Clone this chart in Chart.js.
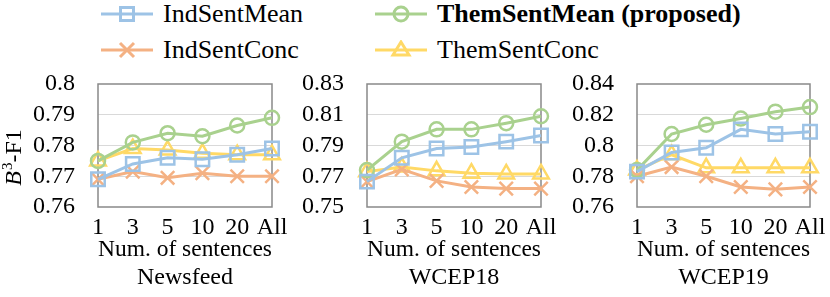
<!DOCTYPE html>
<html>
<head>
<meta charset="utf-8">
<script src="https://cdn.jsdelivr.net/npm/chart.js@4.4.1/dist/chart.umd.min.js"></script>
<style>
  html, body { margin: 0; padding: 0; background: #fff; overflow: hidden; }
  body { width: 830px; height: 297px; position: relative; font-family: 'Liberation Serif', 'Times New Roman', serif; }
  canvas { position: absolute; top: 60px; }
  .leg { position: absolute; height: 30px; display: flex; align-items: center; font-size: 26px; color: #000; white-space: nowrap; }
  .leg svg { margin-right: 10px; }
</style>
</head>
<body>
<div class="leg" style="left:101px; top:-1px;">
  <svg width="52" height="20"><line x1="0" y1="10" x2="52" y2="10" stroke="#9dc3e6" stroke-width="3"/><rect x="19.5" y="3.5" width="13" height="13" fill="none" stroke="#9dc3e6" stroke-width="3"/></svg>IndSentMean</div>
<div class="leg" style="left:375px; top:-1px; font-weight:bold;">
  <svg width="52" height="20"><line x1="0" y1="10" x2="52" y2="10" stroke="#a9d18e" stroke-width="3"/><circle cx="26" cy="10" r="7" fill="none" stroke="#a9d18e" stroke-width="3"/></svg>ThemSentMean (proposed)</div>
<div class="leg" style="left:101px; top:35px;">
  <svg width="52" height="20"><line x1="0" y1="10" x2="52" y2="10" stroke="#f4b183" stroke-width="3"/><path d="M19 3 L33 17 M33 3 L19 17" stroke="#f4b183" stroke-width="3"/></svg>IndSentConc</div>
<div class="leg" style="left:375px; top:35px;">
  <svg width="52" height="20"><line x1="0" y1="10" x2="52" y2="10" stroke="#ffd966" stroke-width="3"/><path d="M26 2 L34 15 L18 15 Z" fill="none" stroke="#ffd966" stroke-width="3"/></svg>ThemSentConc</div>

<canvas id="c1" width="290" height="237" style="left:0px;"></canvas>
<canvas id="c2" width="290" height="237" style="left:290px;"></canvas>
<canvas id="c3" width="270" height="237" style="left:560px;"></canvas>

<script>
  var categories = ['1', '3', '5', '10', '20', 'All'];

  // Newsfeed
  var newsIndMean  = [0.769, 0.774, 0.776, 0.7755, 0.777, 0.779];
  var newsIndConc  = [0.769, 0.7715, 0.7695, 0.771, 0.770, 0.770];
  var newsThemMean = [0.775, 0.781, 0.784, 0.783, 0.7865, 0.789];
  var newsThemConc = [0.775, 0.779, 0.7785, 0.7775, 0.777, 0.777];

  // WCEP18
  var w18IndMean  = [0.7665, 0.782, 0.788, 0.789, 0.7925, 0.7965];
  var w18IndConc  = [0.7665, 0.7745, 0.767, 0.763, 0.762, 0.762];
  var w18ThemMean = [0.774, 0.7925, 0.8005, 0.8005, 0.8045, 0.809];
  var w18ThemConc = [0.773, 0.776, 0.7735, 0.772, 0.7715, 0.7715];

  // WCEP19
  var w19IndMean  = [0.783, 0.7955, 0.7985, 0.8105, 0.8075, 0.809];
  var w19IndConc  = [0.780, 0.786, 0.780, 0.773, 0.7715, 0.773];
  var w19ThemMean = [0.784, 0.8075, 0.8135, 0.8175, 0.822, 0.825];
  var w19ThemConc = [0.784, 0.794, 0.7855, 0.7855, 0.7855, 0.7855];

  var FONT = "'Liberation Serif', 'Times New Roman', serif";
  var BLUE = '#9dc3e6', GREEN = '#a9d18e', ORANGE = '#f4b183', YELLOW = '#ffd966';

  function series(label, data, color, style, radius) {
    return {
      label: label,
      data: data,
      borderColor: color,
      borderWidth: 3,
      pointStyle: style,
      pointRadius: radius,
      pointBorderColor: color,
      pointBackgroundColor: 'rgba(0,0,0,0)',
      pointBorderWidth: 2.5,
      tension: 0
    };
  }

  // grey frame round the plot area
  var framePlugin = {
    id: 'frame',
    beforeDatasetsDraw: function (chart) {
      var a = chart.chartArea, ctx = chart.ctx;
      ctx.save();
      ctx.strokeStyle = '#898989';
      ctx.lineWidth = 1.5;
      ctx.strokeRect(a.left, a.top, a.right - a.left, a.bottom - a.top);
      ctx.restore();
    }
  };

  // B^3-F1 label, italic B with superscript
  var yTitlePlugin = {
    id: 'ytitle',
    afterDraw: function (chart, args, opts) {
      if (!opts.show) return;
      var ctx = chart.ctx;
      ctx.save();
      ctx.translate(opts.x, opts.y);
      ctx.rotate(-Math.PI / 2);
      ctx.fillStyle = '#000';
      ctx.textBaseline = 'middle';
      var big = 'italic 24px ' + FONT, small = '15px ' + FONT, norm = '24px ' + FONT;
      ctx.font = big; var wB = ctx.measureText('B').width;
      ctx.font = small; var w3 = ctx.measureText('3').width;
      ctx.font = norm; var wF = ctx.measureText('-F1').width;
      var x = -(wB + w3 + wF) / 2;
      ctx.font = big; ctx.fillText('B', x, 0); x += wB + 1;
      ctx.font = small; ctx.fillText('3', x, -7); x += w3;
      ctx.font = norm; ctx.fillText('-F1', x, 0);
      ctx.restore();
    }
  };

  function fmt(v) { return String(Number(v.toFixed(2))); }

  function makePanel(id, title, sets, yMin, yMax, yStep, yWidth, padRight, yTitle) {
    new Chart(document.getElementById(id), {
      type: 'line',
      data: {
        labels: categories,
        datasets: [
          series('IndSentMean', sets[0], BLUE, 'rect', 9.5),
          series('ThemSentMean (proposed)', sets[1], GREEN, 'circle', 7),
          series('IndSentConc', sets[2], ORANGE, 'crossRot', 9.5),
          series('ThemSentConc', sets[3], YELLOW, 'triangle', 9)
        ]
      },
      options: {
        responsive: false,
        devicePixelRatio: 1,
        animation: false,
        layout: { padding: { top: 24, right: padRight, bottom: 0, left: 0 } },
        scales: {
          x: {
            type: 'category',
            offset: false,
            grid: { display: false, drawTicks: false },
            border: { display: false },
            ticks: { font: { family: FONT, size: 24, lineHeight: 2 / 3 }, color: '#000', padding: 13, maxRotation: 0, autoSkip: false },
            title: {
              display: true,
              text: ['Num. of sentences', title],
              color: '#000',
              font: { family: FONT, size: 24, lineHeight: 28 / 24 },
              padding: { top: 0, bottom: 5 }
            },
            afterFit: function (s) { s.height = 90; s.paddingLeft = 0; s.paddingRight = 0; }
          },
          y: {
            min: yMin,
            max: yMax,
            ticks: { stepSize: yStep, autoSkip: false, font: { family: FONT, size: 24, lineHeight: 1 }, color: '#000', padding: 23, callback: fmt },
            grid: {
              drawTicks: false,
              color: '#d9d9d9',
              lineWidth: function (c) { return (c.index === 0 || c.index === 4) ? 0 : 1; }
            },
            border: { display: false },
            afterFit: function (s) { s.width = yWidth; s.paddingTop = 0; s.paddingBottom = 0; }
          }
        },
        plugins: {
          legend: { display: false },
          tooltip: { enabled: false },
          title: { display: false },
          ytitle: yTitle || { show: false }
        }
      },
      plugins: [framePlugin, yTitlePlugin]
    });
  }

  makePanel('c1', 'Newsfeed', [newsIndMean, newsThemMean, newsIndConc, newsThemConc], 0.76, 0.80, 0.01, 98, 18, { show: true, x: 15, y: 98 });
  makePanel('c2', 'WCEP18', [w18IndMean, w18ThemMean, w18IndConc, w18ThemConc], 0.75, 0.83, 0.02, 77, 39);
  makePanel('c3', 'WCEP19', [w19IndMean, w19ThemMean, w19IndConc, w19ThemConc], 0.76, 0.84, 0.02, 77, 20);
</script>
</body>
</html>
